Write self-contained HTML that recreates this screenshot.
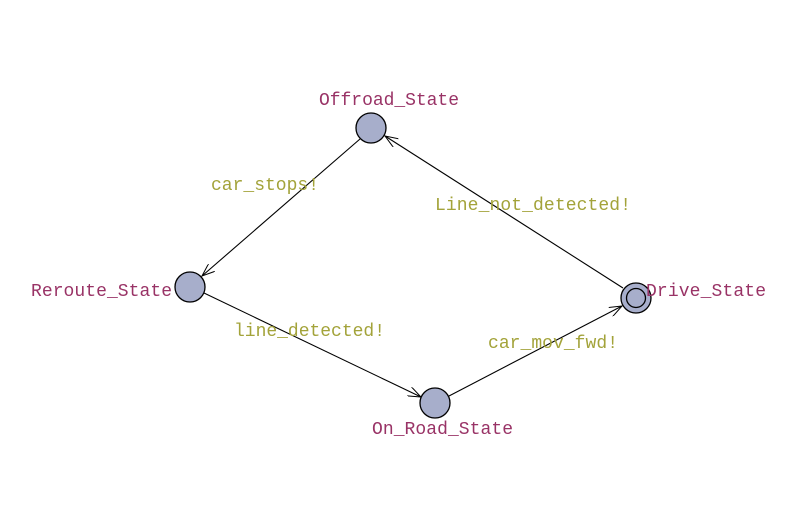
<!DOCTYPE html>
<html><head><style>body{margin:0;background:#fff}svg{display:block}</style></head>
<body>
<svg width="793" height="527" xmlns="http://www.w3.org/2000/svg" font-family="Liberation Mono, monospace" font-size="18">
<defs><marker id="a" markerWidth="14" markerHeight="10" refX="13" refY="5" orient="auto" markerUnits="userSpaceOnUse"><path d="M0,0 L13,5 L0,10" fill="none" stroke="#000" stroke-width="1"/></marker></defs>
<g stroke="#000" stroke-width="1.1" fill="none">
<line x1="360" y1="139" x2="202" y2="276" marker-end="url(#a)"/>
<line x1="204" y1="293" x2="421" y2="397" marker-end="url(#a)"/>
<line x1="449" y1="396" x2="622" y2="306" marker-end="url(#a)"/>
<line x1="623" y1="288" x2="385" y2="136" marker-end="url(#a)"/>
</g>
<g fill="#a7aecb" stroke="#000" stroke-width="1.3">
<circle cx="371" cy="128" r="15"/>
<circle cx="190" cy="287" r="15"/>
<circle cx="435" cy="403" r="15"/>
<circle cx="636" cy="298" r="15"/>
<circle cx="636" cy="298" r="9.5"/>
</g>
<g fill="#993366">
<text x="319" y="105" textLength="140">Offroad_State</text>
<text x="31" y="296" textLength="141">Reroute_State</text>
<text x="372" y="434" textLength="141">On_Road_State</text>
<text x="646" y="296" textLength="120">Drive_State</text>
</g>
<g fill="#a3a33a">
<text x="211" y="190" textLength="108">car_stops!</text>
<text x="435" y="210" textLength="196">Line_not_detected!</text>
<text x="234" y="336" textLength="151">line_detected!</text>
<text x="488" y="348" textLength="130">car_mov_fwd!</text>
</g>
</svg>
</body></html>
